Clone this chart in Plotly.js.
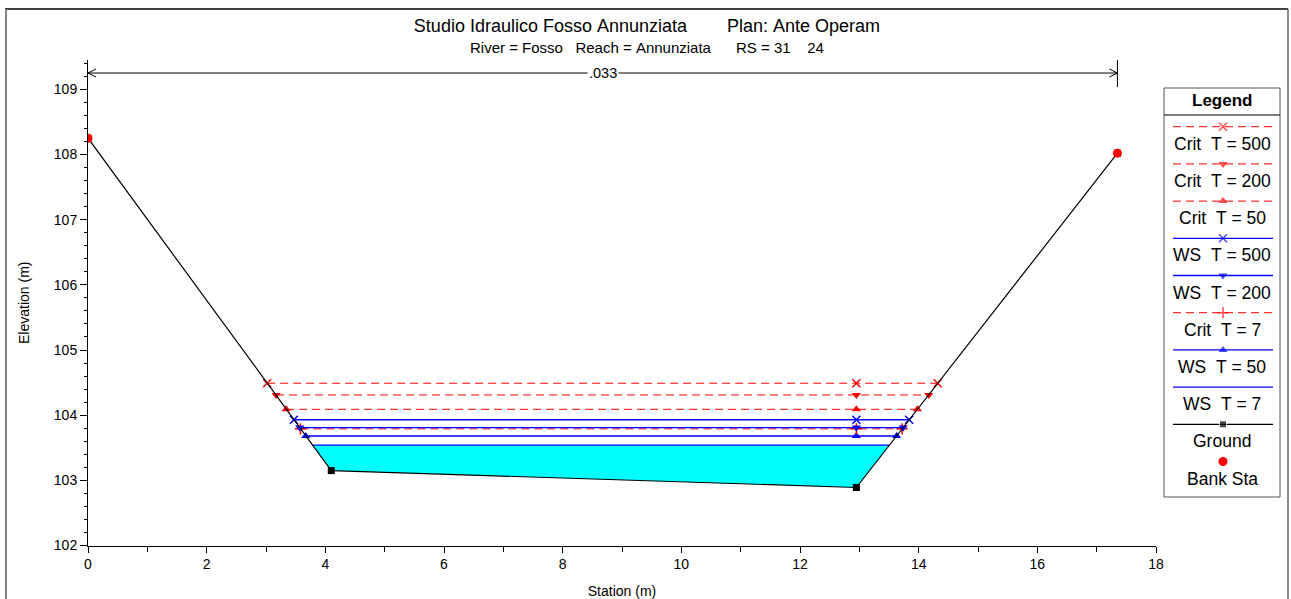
<!DOCTYPE html>
<html><head><meta charset="utf-8">
<script src="https://cdn.plot.ly/plotly-3.0.1.min.js"></script>
<style>html,body{margin:0;padding:0;background:#fff}#chart{width:1291px;height:599px}</style>
</head><body><div id="chart"></div>
<script>
// ---------------- data ----------------
const groundStation = [0, 4.10, 12.95, 17.35];
const groundElevation = [108.25, 103.15, 102.89, 108.02];
const bankStation = [0, 17.35];
const bankElevation = [108.25, 108.02];

const profileNames = ['Crit  T = 500', 'Crit  T = 200', 'Crit  T = 50', 'WS  T = 500', 'WS  T = 200', 'Crit  T = 7', 'WS  T = 50', 'WS  T = 7'];
const profileElevation = [104.49, 104.31, 104.09, 103.93, 103.81, 103.79, 103.68, 103.54];
const profileLeftStation = [3.02, 3.17, 3.34, 3.47, 3.57, 3.58, 3.67, 3.79];
const profileMidStation = [12.95, 12.95, 12.95, 12.95, 12.95, 12.95, 12.95, 12.95];
const profileRightStation = [14.32, 14.17, 13.98, 13.84, 13.74, 13.72, 13.63, 13.51];

const manningValue = ['.033'];
const manningStations = [0, 17.35];
const manningElevation = [109.25];

const xTickVals = [0, 2, 4, 6, 8, 10, 12, 14, 16, 18];
const yTickVals = [102, 103, 104, 105, 106, 107, 108, 109];

const chartTitle = 'Studio Idraulico Fosso Annunziata        Plan: Ante Operam';
const chartSubtitle = 'River = Fosso   Reach = Annunziata      RS = 31    24';

// ---------------- styles ----------------
const W = 1291, H = 599;
const RED = '#ff0000', BLUE = '#0000ff', CYAN = '#00ffff';
const profileKind = ['crit', 'crit', 'crit', 'ws', 'ws', 'crit', 'ws', 'ws'];
const profileSymbol = ['x-thin-open', 'triangle-down', 'triangle-up', 'x-thin-open', 'triangle-down', 'cross-thin-open', 'triangle-up', null];
const nb = s => s.replace(/ /g, '\u00a0');

function styleFor(i) {
  const crit = profileKind[i] === 'crit';
  const color = crit ? RED : BLUE;
  const thin = profileSymbol[i] && profileSymbol[i].indexOf('thin') >= 0;
  return {
    line: {color: color, width: crit ? 1 : 1.3, dash: crit ? '8px,5px' : 'solid'},
    marker: {symbol: profileSymbol[i] || 'circle', size: profileSymbol[i] ? 8 : 0, color: color,
             line: {color: color, width: thin ? 1.5 : 0}}
  };
}

const traces = [];
// water fill under WS T = 7
const iWS7 = profileNames.length - 1;
traces.push({
  x: [profileLeftStation[iWS7], groundStation[1], groundStation[2], profileRightStation[iWS7], profileLeftStation[iWS7]],
  y: [profileElevation[iWS7], groundElevation[1], groundElevation[2], profileElevation[iWS7], profileElevation[iWS7]],
  mode: 'lines', fill: 'toself', fillcolor: CYAN, line: {width: 0, color: CYAN}, hoverinfo: 'skip', xaxis: 'x', yaxis: 'y'
});
// profiles drawn bottom-up
for (let i = profileNames.length - 1; i >= 0; i--) {
  const st = styleFor(i);
  traces.push({
    name: profileNames[i],
    x: [profileLeftStation[i], profileMidStation[i], profileRightStation[i]],
    y: [profileElevation[i], profileElevation[i], profileElevation[i]],
    mode: profileSymbol[i] ? 'lines+markers' : 'lines',
    line: st.line, marker: st.marker, xaxis: 'x', yaxis: 'y'
  });
}
traces.push({name: 'Ground', x: groundStation, y: groundElevation, mode: 'lines+markers',
  line: {color: '#000', width: 1.2}, marker: {symbol: 'square', size: 7, color: '#000'}, xaxis: 'x', yaxis: 'y'});
traces.push({name: 'Bank Sta', x: bankStation, y: bankElevation, mode: 'markers',
  marker: {symbol: 'circle', size: 9, color: RED}, xaxis: 'x', yaxis: 'y'});

// ---------------- legend panel (pixel-space axes x2/y2) ----------------
const LX0 = 1164, LX1 = 1280, LY0 = 88, LY1 = 497;
const legendNames = profileNames.concat(['Ground', 'Bank Sta']);
const legendLine0 = 126.7, legendStep = 37.2, legendTextOffset = 17;
const annotations = [];
const shapes = [];
legendNames.forEach((nm, k) => {
  const ly = legendLine0 + legendStep * k;
  if (k < profileNames.length) {
    const st = styleFor(k);
    traces.push({x: [1173, 1223, 1273], y: [ly, ly, ly], mode: 'lines+markers', line: st.line,
      marker: Object.assign({}, st.marker, {size: [0, st.marker.size, 0]}), xaxis: 'x2', yaxis: 'y2', hoverinfo: 'skip'});
  } else if (nm === 'Ground') {
    traces.push({x: [1173, 1223, 1273], y: [ly, ly, ly], mode: 'lines+markers', line: {color: '#000', width: 1.2},
      marker: {symbol: 'square', size: [0, 7, 0], color: '#000'}, xaxis: 'x2', yaxis: 'y2', hoverinfo: 'skip'});
  } else {
    traces.push({x: [1223], y: [ly], mode: 'markers', marker: {symbol: 'circle', size: 9, color: RED},
      xaxis: 'x2', yaxis: 'y2', hoverinfo: 'skip'});
  }
  annotations.push({xref: 'x2', yref: 'y2', x: 1222, y: ly + legendTextOffset, text: nb(nm), showarrow: false,
    xanchor: 'center', yanchor: 'middle', font: {size: 17.5, color: '#000'}});
});
annotations.push({xref: 'x2', yref: 'y2', x: 1222, y: 101, text: '<b>Legend</b>', showarrow: false,
  xanchor: 'center', yanchor: 'middle', font: {size: 17, color: '#000'}});
shapes.push({type: 'rect', xref: 'paper', yref: 'paper', x0: LX0 / W, x1: LX1 / W, y0: 1 - LY1 / H, y1: 1 - LY0 / H,
  line: {color: '#555', width: 1}});
shapes.push({type: 'line', xref: 'paper', yref: 'paper', x0: LX0 / W, x1: LX1 / W, y0: 1 - 115 / H, y1: 1 - 115 / H,
  line: {color: '#000', width: 1}});

// ---------------- outer frame ----------------
shapes.push({type: 'line', xref: 'paper', yref: 'paper', x0: 5 / W, x1: 1288 / W, y0: 1 - 9 / H, y1: 1 - 9 / H, line: {color: '#000', width: 1.5}});
shapes.push({type: 'line', xref: 'paper', yref: 'paper', x0: 6 / W, x1: 6 / W, y0: 0, y1: 1 - 9 / H, line: {color: '#808080', width: 2}});
shapes.push({type: 'line', xref: 'paper', yref: 'paper', x0: 1288 / W, x1: 1288 / W, y0: 0, y1: 1 - 9 / H, line: {color: '#666', width: 1.5}});

// ---------------- main axes geometry ----------------
const PX0 = 88, PX1 = 1156, PY_BOTTOM = 545.5, PY_TOP = 60;
const xRange = [0, 18];
const yRange = [102, 109.45];
const pxPerX = (PX1 - PX0) / (xRange[1] - xRange[0]);
const pxPerY = (PY_BOTTOM - PY_TOP) / (yRange[1] - yRange[0]);

// Manning's n bracket
const mY = manningElevation[0];
const aL = 8 / pxPerX, aH = 4 / pxPerY;
shapes.push({type: 'line', xref: 'x', yref: 'y', x0: manningStations[0], x1: manningStations[1], y0: mY, y1: mY, line: {color: '#000', width: 1}});
shapes.push({type: 'line', xref: 'x', yref: 'y', x0: manningStations[1], x1: manningStations[1], y0: mY - 14 / pxPerY, y1: yRange[1], line: {color: '#000', width: 1}});
shapes.push({type: 'path', xref: 'x', yref: 'y', line: {color: '#000', width: 1},
  path: `M ${manningStations[0] + aL},${mY + aH} L ${manningStations[0]},${mY} L ${manningStations[0] + aL},${mY - aH}`});
shapes.push({type: 'path', xref: 'x', yref: 'y', line: {color: '#000', width: 1},
  path: `M ${manningStations[1] - aL},${mY + aH} L ${manningStations[1]},${mY} L ${manningStations[1] - aL},${mY - aH}`});
annotations.push({xref: 'x', yref: 'y', x: (manningStations[0] + manningStations[1]) / 2, y: mY, text: manningValue[0],
  showarrow: false, bgcolor: '#fff', borderpad: 1, font: {size: 14.5, color: '#000'}, xanchor: 'center', yanchor: 'middle'});

annotations.push({xref: 'paper', yref: 'paper', x: 647 / W, y: 1 - 47 / H, text: nb(chartSubtitle), showarrow: false,
  xanchor: 'center', yanchor: 'middle', font: {size: 15, color: '#000'}});

const layout = {
  width: W, height: H, margin: {l: 0, r: 0, t: 0, b: 0}, paper_bgcolor: '#fff', plot_bgcolor: '#fff',
  font: {family: '"Liberation Sans", Arial, sans-serif', color: '#000'},
  showlegend: false, hovermode: false,
  title: {text: nb(chartTitle), x: 647 / W, xanchor: 'center', y: 1 - 26 / H, yanchor: 'middle', yref: 'paper',
          font: {size: 18, color: '#000'}},
  xaxis: {domain: [PX0 / W, PX1 / W], range: xRange, tickmode: 'array', tickvals: xTickVals,
    ticks: 'outside', ticklen: 6, tickwidth: 1, tickcolor: '#000', showline: true, linecolor: '#000', linewidth: 1,
    showgrid: false, zeroline: false, tickfont: {size: 14}, anchor: 'y',
    minor: {tickmode: 'linear', tick0: 0, dtick: 1, ticks: 'outside', ticklen: 5, tickcolor: '#000', showgrid: false},
    title: {text: 'Station (m)', font: {size: 14}, standoff: 14}},
  yaxis: {domain: [1 - PY_BOTTOM / H, 1 - PY_TOP / H], range: yRange, tickmode: 'array', tickvals: yTickVals,
    ticks: 'outside', ticklen: 7, tickwidth: 1, tickcolor: '#000', showline: true, linecolor: '#000', linewidth: 1,
    showgrid: false, zeroline: false, tickfont: {size: 14}, anchor: 'x',
    minor: {tickmode: 'linear', tick0: 102, dtick: 0.2, ticks: 'outside', ticklen: 3, tickcolor: '#000', showgrid: false},
    title: {text: 'Elevation (m)', font: {size: 14}, standoff: 20}},
  xaxis2: {domain: [LX0 / W, LX1 / W], range: [LX0, LX1], visible: false, anchor: 'y2', fixedrange: true},
  yaxis2: {domain: [1 - LY1 / H, 1 - LY0 / H], range: [LY1, LY0], visible: false, anchor: 'x2', fixedrange: true},
  shapes: shapes, annotations: annotations
};

Plotly.newPlot('chart', traces, layout, {displayModeBar: false, staticPlot: true});
</script>
</body></html>
